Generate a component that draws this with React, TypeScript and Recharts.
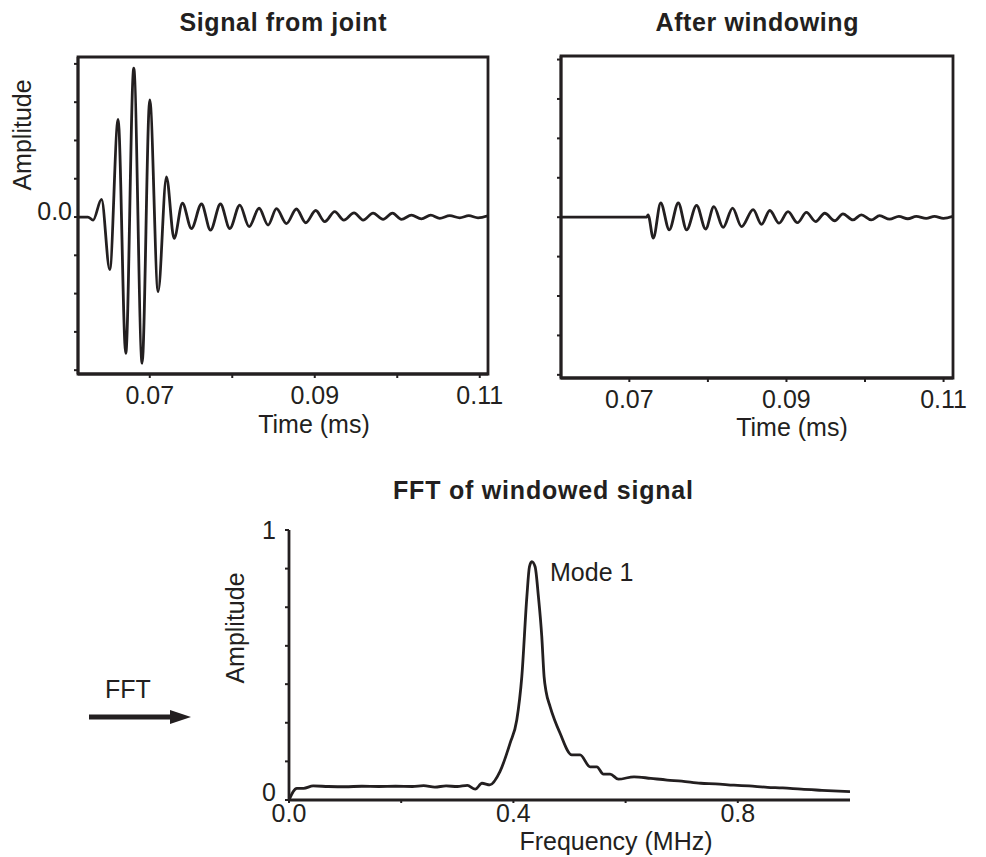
import React from 'react';
import { LineChart, Line, XAxis, YAxis, ReferenceArea } from 'recharts';

const INK = '#231f20';
const FONT = '"Liberation Sans", Arial, Helvetica, sans-serif';

// Signal from joint (time in ms, amplitude in tick units)
const rawTime = [
  0.0613, 0.0625, 0.06313, 0.06415, 0.06515, 0.06616, 0.06709, 0.06806, 0.06907, 0.07,
  0.07101, 0.07202, 0.07295, 0.07396, 0.07505, 0.07627, 0.07736, 0.07857, 0.0797, 0.08091,
  0.08204, 0.08325, 0.08434, 0.08536, 0.08657, 0.08778, 0.08891, 0.09012, 0.09121, 0.09242,
  0.09352, 0.09476, 0.09586, 0.09707, 0.09828, 0.09942, 0.10051, 0.10172, 0.10293, 0.10406,
  0.10515, 0.10636, 0.10758, 0.10867, 0.10979, 0.111,
];
const rawAmp = [
  0, 0, -0.08, 0.46, -1.37, 2.55, -3.56, 3.89, -3.82, 3.06,
  -1.95, 1.05, -0.56, 0.36, -0.3, 0.34, -0.34, 0.34, -0.3, 0.31,
  -0.25, 0.23, -0.21, 0.22, -0.17, 0.21, -0.15, 0.17, -0.12, 0.14,
  -0.08, 0.11, -0.08, 0.1, -0.06, 0.1, -0.06, 0.05, -0.05, 0.05,
  -0.035, 0.035, -0.02, 0.035, -0.02, 0.03,
];

// After windowing
const windowedTime = [
  0.0613, 0.07221, 0.07238, 0.07305, 0.07399, 0.07508, 0.07623, 0.07729, 0.07856, 0.07971,
  0.08076, 0.08194, 0.08314, 0.08428, 0.08576, 0.08682, 0.08788, 0.08906, 0.0902, 0.0914,
  0.09254, 0.09372, 0.09487, 0.09614, 0.09719, 0.09846, 0.09953, 0.1008, 0.10186, 0.10313,
  0.10431, 0.10545, 0.10652, 0.10779, 0.10884, 0.10999, 0.1112,
];
const windowedAmp = [
  0, 0, 0.06, -0.53, 0.36, -0.32, 0.36, -0.32, 0.3, -0.3,
  0.27, -0.26, 0.23, -0.24, 0.19, -0.18, 0.17, -0.15, 0.14, -0.14,
  0.12, -0.11, 0.1, -0.09, 0.085, -0.07, 0.06, -0.07, 0.04, -0.05,
  0.02, -0.04, 0.02, -0.03, 0.02, -0.03, 0.02,
];

// FFT of windowed signal
const fftFreq = [
  0, 0.014, 0.026, 0.043, 0.07, 0.1, 0.13, 0.16, 0.19, 0.22,
  0.24, 0.26, 0.28, 0.3, 0.318, 0.332, 0.344, 0.358, 0.376, 0.394,
  0.406, 0.415, 0.424, 0.4286, 0.4328, 0.4387, 0.4446, 0.4506, 0.4547, 0.4583,
  0.4654, 0.4832, 0.5041, 0.5189, 0.5367, 0.5487, 0.5605, 0.5724, 0.5872, 0.615,
  0.645, 0.674, 0.7, 0.734, 0.76, 0.793, 0.82, 0.853, 0.88, 0.913,
  0.95, 1.0,
];
const fftAmp = [
  0, 0.043, 0.043, 0.052, 0.05, 0.049, 0.051, 0.05, 0.051, 0.05,
  0.053, 0.048, 0.052, 0.05, 0.054, 0.04, 0.062, 0.056, 0.105, 0.21,
  0.296, 0.457, 0.753, 0.864, 0.883, 0.864, 0.753, 0.605, 0.457, 0.401,
  0.346, 0.247, 0.167, 0.167, 0.123, 0.123, 0.096, 0.096, 0.077, 0.086,
  0.08, 0.074, 0.07, 0.062, 0.06, 0.055, 0.052, 0.047, 0.045, 0.04,
  0.036, 0.031,
];

const timeTicks = [0.07, 0.08, 0.09, 0.1, 0.11];
const timeTickLabels = ['0.07', '', '0.09', '', '0.11'];
const ampTicks = [-4, -3, -2, -1, 0, 1, 2, 3, 4];
const freqTicks = [0, 0.2, 0.4, 0.6, 0.8];
const freqTickLabels = ['0.0', '', '0.4', '', '0.8'];
const fftAmpTicks = [0, 0.143, 0.286, 0.429, 0.571, 0.714, 0.857, 1];

const rawData = rawTime.map((t, i) => ({ t, a: rawAmp[i] }));
const windowedData = windowedTime.map((t, i) => ({ t, a: windowedAmp[i] }));
const fftData = fftFreq.map((f, i) => ({ f, a: fftAmp[i] }));

const tickStyle = { fontSize: 25, fill: INK, fontFamily: FONT };
const axisLine = { stroke: INK, strokeWidth: 2.8 };
const tickLine = { stroke: INK, strokeWidth: 2 };

// only the zero tick carries a label on the signal axis
const ZeroTick = ({ x, y, payload }: any) =>
  payload.value === 0 ? (
    <text x={x} y={y} dy={3} textAnchor="end" {...tickStyle}>0.0</text>
  ) : <g />;

const NoLabelTick = () => <g />;

const FftAmpTick = ({ x, y, payload }: any) => {
  if (payload.value === 0) return <text x={x} y={y} dy={1} textAnchor="end" {...tickStyle}>0</text>;
  if (payload.value === 1) return <text x={x} y={y} dy={9} textAnchor="end" {...tickStyle}>1</text>;
  return <g />;
};

const SignalPanel = ({ data, domainX, domainY, showZero, yWidth, margin }: any) => (
  <LineChart width={margin.w} height={450} data={data} margin={margin.m}>
    <XAxis
      type="number"
      dataKey="t"
      domain={domainX}
      allowDataOverflow
      ticks={timeTicks}
      tickFormatter={(_v: number, i: number) => timeTickLabels[i]}
      tick={tickStyle}
      tickSize={4}
      tickMargin={8}
      axisLine={axisLine}
      tickLine={tickLine}
      height={76}
    />
    <YAxis
      type="number"
      domain={domainY}
      allowDataOverflow
      ticks={ampTicks}
      tick={showZero ? <ZeroTick /> : <NoLabelTick />}
      tickSize={4}
      tickMargin={2}
      axisLine={axisLine}
      tickLine={tickLine}
      width={yWidth}
    />
    <ReferenceArea
      x1={domainX[0]}
      x2={domainX[1]}
      y1={domainY[0]}
      y2={domainY[1]}
      fill="none"
      stroke={INK}
      strokeWidth={2.8}
      ifOverflow="visible"
    />
    <Line
      type="monotone"
      dataKey="a"
      stroke={INK}
      strokeWidth={2.8}
      dot={false}
      isAnimationActive={false}
    />
  </LineChart>
);

export default function App() {
  return (
    <div style={{ position: 'absolute', left: 0, top: 0, width: 986, height: 857, background: '#fff' }}>
      <div style={{ position: 'absolute', left: 0, top: 0 }}>
        <SignalPanel
          data={rawData}
          domainX={[0.0613, 0.111]}
          domainY={[-4.1, 4.18]}
          showZero
          yWidth={60}
          margin={{ w: 520, m: { top: 57, right: 32, bottom: 0, left: 18 } }}
        />
      </div>
      <div style={{ position: 'absolute', left: 500, top: 0 }}>
        <SignalPanel
          data={windowedData}
          domainX={[0.0613, 0.1112]}
          domainY={[-4.08, 4.09]}
          showZero={false}
          yWidth={20}
          margin={{ w: 486, m: { top: 56, right: 33, bottom: -4, left: 41 } }}
        />
      </div>
      <div style={{ position: 'absolute', left: 200, top: 470 }}>
        <LineChart width={786} height={387} data={fftData} margin={{ top: 60, right: 136, bottom: 17, left: 29 }}>
          <XAxis
            type="number"
            dataKey="f"
            domain={[0, 1]}
            allowDataOverflow
            ticks={freqTicks}
            tickFormatter={(_v: number, i: number) => freqTickLabels[i]}
            tick={tickStyle}
            tickSize={3}
            tickMargin={1}
            axisLine={axisLine}
            tickLine={tickLine}
            height={40}
          />
          <YAxis
            type="number"
            domain={[0, 1]}
            allowDataOverflow
            ticks={fftAmpTicks}
            tick={<FftAmpTick />}
            tickSize={4}
            tickMargin={9}
            axisLine={axisLine}
            tickLine={tickLine}
            width={60}
          />
          <Line
            type="monotone"
            dataKey="a"
            stroke={INK}
            strokeWidth={2.8}
            dot={false}
            isAnimationActive={false}
          />
        </LineChart>
      </div>
      <svg
        width={986}
        height={857}
        style={{ position: 'absolute', left: 0, top: 0, pointerEvents: 'none' }}
        fontFamily={FONT}
        fill={INK}
      >
        <text x={283} y={31} textAnchor="middle" fontSize={25} fontWeight="bold" textLength={207}>Signal from joint</text>
        <text x={757} y={31} textAnchor="middle" fontSize={25} fontWeight="bold" textLength={203}>After windowing</text>
        <text x={543} y={499} textAnchor="middle" fontSize={25} fontWeight="bold" textLength={300}>FFT of windowed signal</text>
        <text x={31} y={135} textAnchor="middle" fontSize={25} transform="rotate(-90 31 135)">Amplitude</text>
        <text x={244} y={628} textAnchor="middle" fontSize={25} transform="rotate(-90 244 628)">Amplitude</text>
        <text x={314} y={433} textAnchor="middle" fontSize={25}>Time (ms)</text>
        <text x={792} y={436} textAnchor="middle" fontSize={25}>Time (ms)</text>
        <text x={616} y={850} textAnchor="middle" fontSize={25}>Frequency (MHz)</text>
        <text x={550} y={581} fontSize={25}>Mode 1</text>
        <text x={105} y={698} fontSize={25}>FFT</text>
        <line x1={89} y1={717} x2={174} y2={717} stroke={INK} strokeWidth={5} />
        <polygon points="170,710 191,717 170,724" fill={INK} />
      </svg>
    </div>
  );
}
